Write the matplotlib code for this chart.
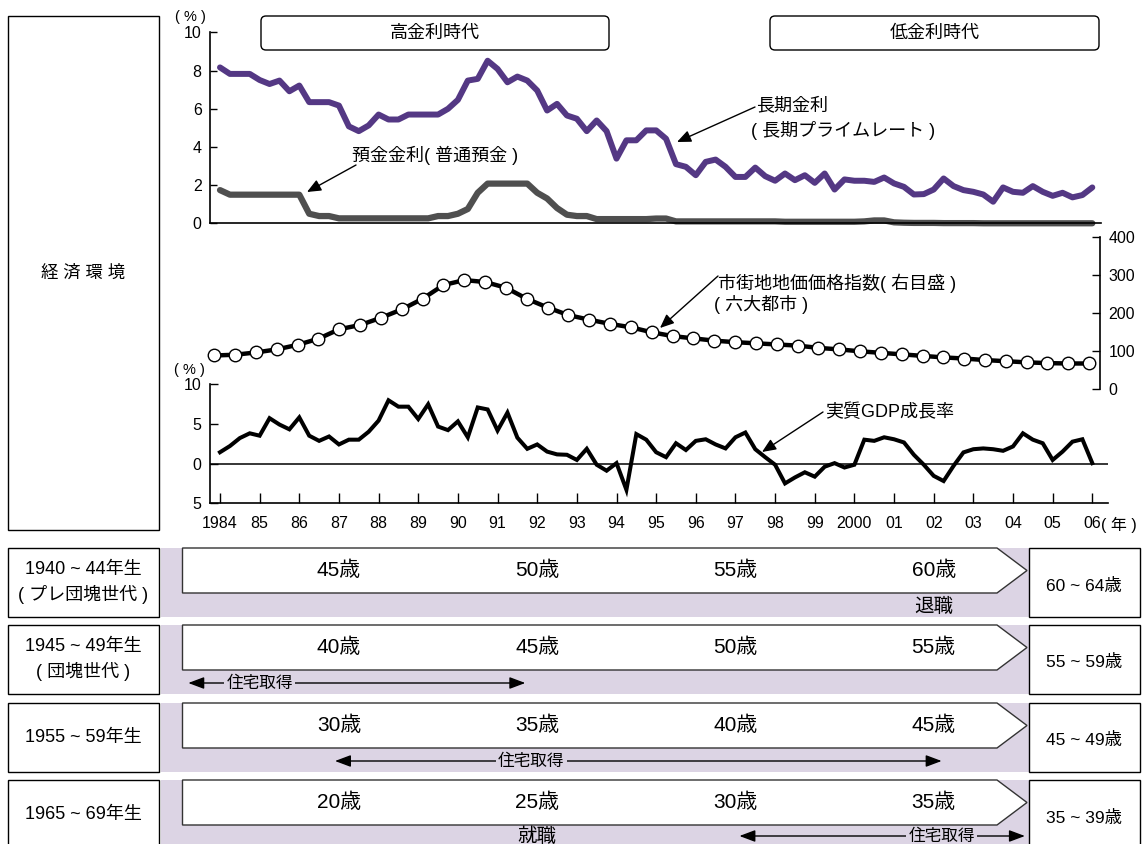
import matplotlib
matplotlib.use("Agg")
import matplotlib.pyplot as plt
from matplotlib.patches import Rectangle, Polygon, FancyBboxPatch
import numpy as np

plt.rcParams['font.family'] = ['Liberation Sans', 'Noto Sans CJK JP']

# ---------------------------------------------------------------- data
# quarterly series, 1984Q1 .. 2006Q1
long_rate = [8.17, 7.83, 7.83, 7.83, 7.51, 7.3, 7.48, 6.92, 7.22, 6.35,
             6.35, 6.35, 6.17, 5.08, 4.83, 5.13, 5.7, 5.44, 5.44, 5.7,
             5.7, 5.7, 5.7, 6.0, 6.47, 7.48, 7.57, 8.52, 8.09, 7.39,
             7.69, 7.48, 6.96, 5.91, 6.26, 5.65, 5.48, 4.83, 5.39, 4.83,
             3.39, 4.35, 4.35, 4.87, 4.87, 4.43, 3.1, 2.96, 2.52, 3.22,
             3.34, 2.96, 2.43, 2.43, 2.92, 2.47, 2.23, 2.61, 2.26, 2.52,
             2.12, 2.61, 1.77, 2.3, 2.23, 2.23, 2.17, 2.4, 2.09, 1.91,
             1.51, 1.53, 1.77, 2.35, 1.95, 1.74, 1.65, 1.51, 1.13, 1.88,
             1.65, 1.6, 1.95, 1.65, 1.44, 1.6, 1.36, 1.48, 1.88]

deposit_rate = [1.74, 1.5, 1.5, 1.5, 1.5, 1.5, 1.5, 1.5, 1.5, 0.5,
                0.38, 0.38, 0.26, 0.26, 0.26, 0.26, 0.26, 0.26, 0.26, 0.26,
                0.26, 0.26, 0.38, 0.38, 0.5, 0.75, 1.6, 2.08, 2.08, 2.08,
                2.08, 2.08, 1.6, 1.3, 0.8, 0.45, 0.38, 0.38, 0.22, 0.22,
                0.22, 0.22, 0.22, 0.22, 0.25, 0.25, 0.1, 0.1, 0.1, 0.1,
                0.1, 0.1, 0.1, 0.1, 0.1, 0.1, 0.1, 0.08, 0.08, 0.08,
                0.08, 0.08, 0.08, 0.08, 0.08, 0.1, 0.15, 0.15, 0.05, 0.03,
                0.02, 0.02, 0.02, 0.01, 0.01, 0.01, 0.01, 0.001, 0.001, 0.001,
                0.001, 0.001, 0.001, 0.001, 0.001, 0.001, 0.001, 0.001, 0.001]

gdp_growth = [1.42, 2.2, 3.2, 3.8, 3.5, 5.7, 4.9, 4.3, 5.8, 3.5,
              2.85, 3.4, 2.4, 3.0, 3.0, 4.0, 5.4, 7.95, 7.15, 7.15,
              5.6, 7.45, 4.65, 4.2, 5.3, 3.3, 7.05, 6.8, 4.15, 6.4,
              3.25, 1.85, 2.4, 1.5, 1.15, 1.1, 0.45, 1.85, -0.15, -0.9,
              0.05, -3.3, 3.7, 3.0, 1.42, 0.8, 2.55, 1.7, 2.85, 3.05,
              2.4, 1.9, 3.3, 3.9, 1.8, 0.8, -0.15, -2.5, -1.75, -1.1,
              -1.65, -0.4, 0.05, -0.5, -0.15, 3.0, 2.85, 3.3, 3.05, 2.65,
              1.1, -0.15, -1.55, -2.2, -0.3, 1.4, 1.8, 1.9, 1.8, 1.6,
              2.15, 3.8, 3.0, 2.55, 0.45, 1.5, 2.75, 3.05, 0.05]

# semi-annual urban land price index (six major cities)
land_index = [88, 90, 96, 104, 116, 132, 157, 168, 187, 209,
              237, 273, 286, 281, 266, 237, 214, 194, 182, 171,
              162, 149, 139, 133, 127, 123, 120, 117, 114, 108,
              104, 99, 95, 91, 87, 83, 80, 76, 73, 70,
              68, 67, 67]

years = list(range(1984, 2007))
year_labels = ['1984', '85', '86', '87', '88', '89', '90', '91', '92', '93',
               '94', '95', '96', '97', '98', '99', '2000', '01', '02', '03',
               '04', '05', '06']

periods = ['高金利時代', '低金利時代']

cohorts = ['1940 ~ 44年生\n( プレ団塊世代 )', '1945 ~ 49年生\n( 団塊世代 )',
           '1955 ~ 59年生', '1965 ~ 69年生']
birth_mid = [1942, 1947, 1957, 1967]
ages = [[45, 50, 55, 60], [40, 45, 50, 55], [30, 35, 40, 45], [20, 25, 30, 35]]
age_2006 = ['60 ~ 64歳', '55 ~ 59歳', '45 ~ 49歳', '35 ~ 39歳']
retire_year = [2002]          # row 0
job_year = [1992]             # row 3
housing = {1: (1983.2, 1991.7, 1985.0),
           2: (1986.9, 2002.2, 1991.85),
           3: (1997.1, 2004.3, 2002.2)}

PURPLE = '#543884'
GRAY = '#4f4f4f'
LAV = '#DCD4E4'

# ---------------------------------------------------------------- layout helpers
W, H = 1146, 844
fig = plt.figure(figsize=(W / 100, H / 100), dpi=100)
fig.patch.set_facecolor('white')

X1984, PX_PER_YEAR = 220.0, 39.65


def yr2px(y):
    return X1984 + (y - 1984) * PX_PER_YEAR


def px2yr(p):
    return 1984 + (p - X1984) / PX_PER_YEAR


def add_px_axes(x0, y0, x1, y1):
    ax = fig.add_axes([x0 / W, 1 - y1 / H, (x1 - x0) / W, (y1 - y0) / H])
    ax.patch.set_visible(False)
    return ax


quarters = 1984 + np.arange(len(long_rate)) / 4.0

# ---------------------------------------------------------------- interest rates
ax1 = add_px_axes(210, 32.5, 1101, 223.3)
ax1.set_xlim(px2yr(210), px2yr(1101))
ax1.set_ylim(0, 10)
ax1.plot(quarters, long_rate, color=PURPLE, lw=4.3, solid_joinstyle='round',
         solid_capstyle='round', clip_on=False, zorder=3)
ax1.plot(quarters, deposit_rate, color=GRAY, lw=4.5, solid_joinstyle='round',
         solid_capstyle='round', clip_on=False, zorder=2)
for s in ('top', 'right'):
    ax1.spines[s].set_visible(False)
ax1.spines['left'].set_linewidth(1.2)
ax1.spines['bottom'].set_linewidth(1.2)
ax1.set_xticks([])
ax1.set_yticks(range(0, 11, 2))
ax1.tick_params(axis='y', direction='in', length=5, width=1, labelsize=11.5, pad=6)

# ---------------------------------------------------------------- land price index
ax2 = add_px_axes(210, 236.7, 1100, 389)
n_land = len(land_index)
ax2.set_xlim((210 - 214.3) / 20.83, (1100 - 214.3) / 20.83)
ax2.set_ylim(0, 400)
ax2.plot(np.arange(n_land), land_index, '-o', color='black', lw=3.2, ms=9,
         mfc='white', mec='black', mew=1, clip_on=False)
for s in ('top', 'left', 'bottom'):
    ax2.spines[s].set_visible(False)
ax2.spines['right'].set_linewidth(1.2)
ax2.set_xticks([])
ax2.yaxis.set_ticks_position('right')
ax2.set_yticks(range(0, 401, 100))
ax2.tick_params(axis='y', direction='in', length=6, width=1, labelsize=11.5, pad=6)

# ---------------------------------------------------------------- real GDP growth
ax3 = add_px_axes(210, 384, 1108, 503.3)
ax3.set_xlim(px2yr(210), px2yr(1108))
ax3.set_ylim(-5, 10)
ax3.axhline(0, color='black', lw=1.1)
ax3.plot(quarters, gdp_growth, color='black', lw=2.9, solid_joinstyle='miter')
for s in ('top', 'right'):
    ax3.spines[s].set_visible(False)
ax3.spines['left'].set_linewidth(1.2)
ax3.spines['bottom'].set_linewidth(1.2)
ax3.set_yticks([-5, 0, 5, 10])
ax3.set_yticklabels(['5', '0', '5', '10'])
ax3.set_xticks(years)
ax3.set_xticklabels(year_labels)
ax3.tick_params(axis='y', direction='in', length=6, width=1, labelsize=11.5, pad=6)
ax3.tick_params(axis='x', direction='in', length=7, width=1, labelsize=11.5, pad=9)

# ---------------------------------------------------------------- overlay (pixel coordinates)
ov = fig.add_axes([0, 0, 1, 1])
ov.set_xlim(0, W)
ov.set_ylim(H, 0)
ov.axis('off')
ov.patch.set_visible(False)

ov.text(190, 17, '( % )', ha='center', va='center', fontsize=10.5)
ov.text(189, 370, '( % )', ha='center', va='center', fontsize=10.5)
ov.text(1101, 525, '( 年 )', ha='left', va='center', fontsize=11.5)

# era boxes
for (x0, x1), label in zip([(261, 609), (770, 1099)], periods):
    ov.add_patch(FancyBboxPatch((x0, 16), x1 - x0, 34,
                                boxstyle='round,pad=0,rounding_size=5',
                                fc='white', ec='black', lw=1))
    ov.text((x0 + x1) / 2, 33, label, ha='center', va='center', fontsize=13)

# economic environment frame
ov.add_patch(Rectangle((8, 16), 151, 514, fill=False, ec='black', lw=1))
ov.text(83, 273, '経 済 環 境', ha='center', va='center', fontsize=12.5)

# series annotations
arrow_kw = dict(arrowstyle='-|>,head_length=0.7,head_width=0.3', mutation_scale=12,
                color='black', lw=1, shrinkA=0, shrinkB=0)
ov.annotate('', xy=(307, 192), xytext=(356, 165), arrowprops=arrow_kw)
ov.text(352, 155, '預金金利( 普通預金 )', ha='left', va='center', fontsize=13)

ov.annotate('', xy=(677, 142), xytext=(755, 107), arrowprops=arrow_kw)
ov.text(756, 106, '長期金利', ha='left', va='center', fontsize=13)
ov.text(751, 131, '( 長期プライムレート )', ha='left', va='center', fontsize=13)

ov.annotate('', xy=(660, 328), xytext=(718, 276), arrowprops=arrow_kw)
ov.text(718, 283, '市街地地価価格指数( 右目盛 )', ha='left', va='center', fontsize=13)
ov.text(714, 304, '( 六大都市 )', ha='left', va='center', fontsize=13)

ov.annotate('', xy=(762, 452), xytext=(823, 412), arrowprops=arrow_kw)
ov.text(825, 412, '実質GDP成長率', ha='left', va='center', fontsize=13)

# ---------------------------------------------------------------- life-stage rows
row_tops = [548, 625, 703, 780]
ROW_H, ARROW_H = 69, 45
dbl_kw = dict(arrowstyle='<|-|>,head_length=0.8,head_width=0.3', mutation_scale=12,
              color='black', lw=1, shrinkA=0, shrinkB=0)

for k, top in enumerate(row_tops):
    ov.add_patch(Rectangle((160.5, top), 1029 - 160.5, ROW_H, fc=LAV, ec='none'))
    ov.add_patch(Rectangle((8, top), 151, ROW_H, fc='white', ec='black', lw=1))
    ov.add_patch(Rectangle((1029, top), 111, ROW_H, fc='white', ec='black', lw=1))
    ov.add_patch(Polygon([(182.5, top), (997, top), (1027, top + ARROW_H / 2),
                          (997, top + ARROW_H), (182.5, top + ARROW_H)],
                         closed=True, fc='white', ec='#333333', lw=1))
    ov.text(83, top + ROW_H / 2, cohorts[k], ha='center', va='center',
            fontsize=13, linespacing=1.45)
    ov.text(1084, top + ROW_H / 2 + 3, age_2006[k], ha='center', va='center',
            fontsize=12.5)
    for a in ages[k]:
        ov.text(yr2px(birth_mid[k] + a), top + ARROW_H / 2, f'{a}歳',
                ha='center', va='center', fontsize=15)

    ev_y = top + 59
    if k == 0:
        for y in retire_year:
            ov.text(yr2px(y), ev_y, '退職', ha='center', va='center', fontsize=14)
    if k == 3:
        for y in job_year:
            ov.text(yr2px(y), ev_y - 2, '就職', ha='center', va='center', fontsize=14)
    if k in housing:
        y0, y1, ylab = housing[k]
        hy = ev_y - (1 if k != 3 else 3)
        ov.annotate('', xy=(yr2px(y1), hy), xytext=(yr2px(y0), hy), arrowprops=dbl_kw)
        ov.text(yr2px(ylab), hy, '住宅取得', ha='center', va='center', fontsize=12,
                bbox=dict(fc=LAV, ec='none', pad=1.5))

fig.savefig('out.png', dpi=100, facecolor='white')
